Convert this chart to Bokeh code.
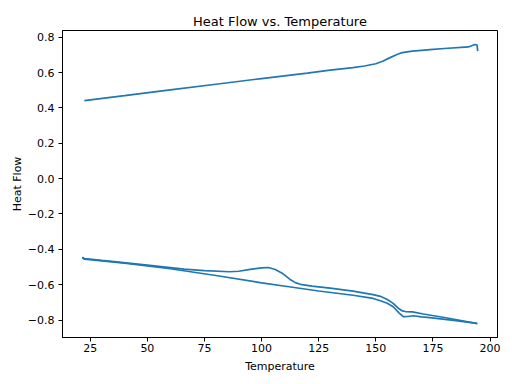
from bokeh.plotting import figure
from bokeh.models import Range1d, FixedTicker, CustomJSTickFormatter
from bokeh.embed import file_html
from bokeh.resources import INLINE

# Upper curve
temp_top = [22.4, 40, 60, 80, 100, 120, 130, 140, 145, 150, 153, 156, 159, 161, 163, 166, 170, 173.7, 180, 189, 190.5, 193.4, 194.3, 194.6]
heat_top = [0.441, 0.469, 0.502, 0.534, 0.566, 0.597, 0.614, 0.628, 0.637, 0.650, 0.664, 0.683, 0.701, 0.711, 0.716, 0.721, 0.726, 0.730, 0.736, 0.744, 0.745, 0.759, 0.755, 0.721]

# Lower curve, run A (with bump)
temp_a = [21.5, 22.4, 30, 50, 66, 75, 86, 90, 95, 100, 103, 106, 109, 112.3, 115, 117, 122, 130, 140, 148.8, 152, 155, 157.6, 160, 161.5, 163, 166, 170.8, 180, 194.5]
heat_a = [-0.445, -0.452, -0.463, -0.490, -0.512, -0.521, -0.527, -0.524, -0.514, -0.505, -0.503, -0.514, -0.535, -0.569, -0.590, -0.598, -0.608, -0.620, -0.637, -0.656, -0.666, -0.684, -0.706, -0.735, -0.748, -0.752, -0.754, -0.766, -0.786, -0.820]

# Lower curve, run B
temp_b = [21.5, 22.4, 40, 60, 80, 100, 112, 125, 140, 148.8, 152, 155, 157.6, 160, 162, 164, 166.4, 170, 173.7, 185, 194.2]
heat_b = [-0.447, -0.456, -0.478, -0.510, -0.548, -0.590, -0.612, -0.636, -0.660, -0.678, -0.691, -0.705, -0.725, -0.758, -0.781, -0.780, -0.776, -0.782, -0.787, -0.803, -0.819]

x_ticks = [25, 50, 75, 100, 125, 150, 175, 200]
y_ticks = [-0.8, -0.6, -0.4, -0.2, 0.0, 0.2, 0.4, 0.6, 0.8]

all_t = temp_top + temp_a + temp_b
all_h = heat_top + heat_a + heat_b
tmin, tmax = min(all_t), max(all_t)
hmin, hmax = min(all_h), max(all_h)
tpad = (tmax - tmin) * 0.05
hpad = (hmax - hmin) * 0.05

p = figure(frame_width=435, frame_height=307, output_backend="svg", toolbar_location=None,
           x_range=Range1d(tmin - tpad, tmax + tpad), y_range=Range1d(hmin - hpad, hmax + hpad),
           title="Heat Flow vs. Temperature",
           min_border_left=62, min_border_right=6, min_border_top=30, min_border_bottom=36)

color = "#1f77b4"
for xs, ys in [(temp_top, heat_top), (temp_a, heat_a), (temp_b, heat_b)]:
    p.line(xs, ys, line_color=color, line_width=1.7)

p.title.align = "center"
p.title.text_font = "DejaVu Sans"
p.title.text_font_size = "13px"
p.title.text_font_style = "normal"
p.title.text_color = "black"
p.title.standoff = 3

p.xgrid.visible = False
p.ygrid.visible = False
p.outline_line_color = "black"
p.outline_line_width = 1
p.background_fill_color = "white"
p.border_fill_color = "white"

p.xaxis.ticker = FixedTicker(ticks=x_ticks)
p.yaxis.ticker = FixedTicker(ticks=y_ticks)
p.yaxis.formatter = CustomJSTickFormatter(code="return tick.toFixed(1).replace('-', '\u2212');")
p.xaxis.axis_label = "Temperature"
p.yaxis.axis_label = "Heat Flow"

for ax in [p.xaxis[0], p.yaxis[0]]:
    ax.axis_line_color = "black"
    ax.major_tick_line_color = "black"
    ax.major_tick_out = 4
    ax.major_tick_in = 0
    ax.minor_tick_line_color = None
    ax.major_label_text_font = "DejaVu Sans"
    ax.major_label_text_font_size = "11px"
    ax.major_label_text_color = "black"
    ax.axis_label_text_font = "DejaVu Sans"
    ax.axis_label_text_font_size = "11px"
    ax.axis_label_text_font_style = "normal"
    ax.axis_label_text_color = "black"

p.xaxis.major_label_standoff = 2
p.xaxis.axis_label_standoff = 5
p.yaxis.major_label_standoff = 4
p.yaxis.axis_label_standoff = 1

open("out.html", "w").write(file_html(p, INLINE))
